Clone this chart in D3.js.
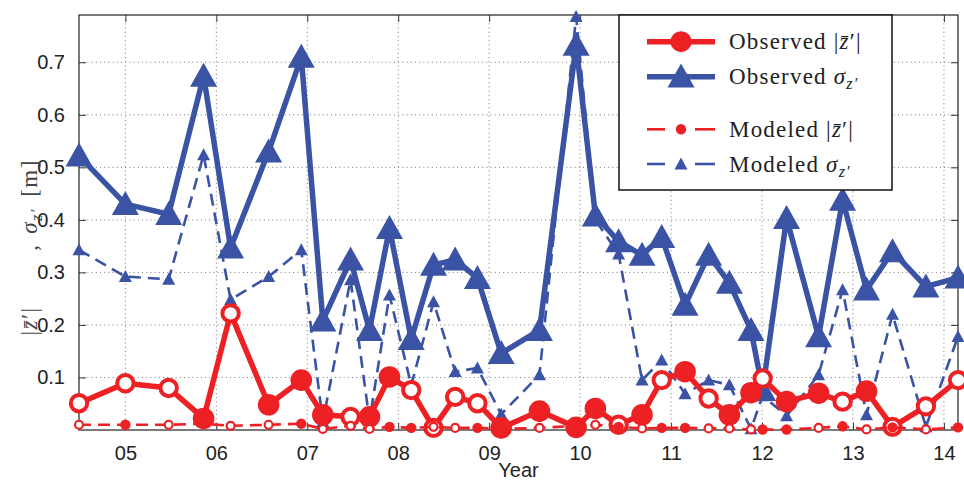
<!DOCTYPE html>
<html>
<head>
<meta charset="utf-8">
<script src="https://cdn.jsdelivr.net/npm/d3@7"></script>
<style>
  html, body { margin: 0; padding: 0; background: #fff; }
  svg { display: block; }
</style>
</head>
<body>
<svg id="chart" width="964" height="480"></svg>
<script>
// ---------- data ----------
const years = [2004.49, 2005.0, 2005.476, 2005.86, 2006.157, 2006.575, 2006.934, 2007.171, 2007.476, 2007.684,
  2007.904, 2008.143, 2008.388, 2008.626, 2008.871, 2009.132, 2009.553, 2009.956, 2010.168, 2010.423,
  2010.681, 2010.897, 2011.154, 2011.413, 2011.641, 2011.879, 2012.007, 2012.27, 2012.622, 2012.886,
  2013.149, 2013.435, 2013.802, 2014.155];
const obsZ = [0.051, 0.089, 0.08, 0.022, 0.222, 0.048, 0.095, 0.029, 0.025, 0.025,
  0.101, 0.076, 0.004, 0.063, 0.051, 0.004, 0.036, 0.005, 0.041, 0.01,
  0.029, 0.095, 0.111, 0.06, 0.029, 0.071, 0.098, 0.054, 0.07, 0.054,
  0.074, 0.006, 0.045, 0.095];
const obsZOpen = [1,1,1,0,1,0,0,0,1,0, 0,1,1,1,1,0,0,0,0,1, 0,1,0,1,0,0,1,0,0,1, 0,1,1,1];
const obsSigma = [0.522, 0.43, 0.411, 0.674, 0.347, 0.53, 0.71, 0.208, 0.324, 0.19,
  0.384, 0.173, 0.314, 0.324, 0.289, 0.146, 0.19, 0.733, 0.408, 0.359,
  0.333, 0.367, 0.238, 0.333, 0.28, 0.19, 0.076, 0.403, 0.178, 0.438,
  0.267, 0.34, 0.273, 0.29];
const modZ = [0.01, 0.01, 0.01, 0.012, 0.008, 0.01, 0.012, 0.002, 0.008, 0.002,
  0.006, 0.004, 0.006, 0.004, 0.004, 0.002, 0.004, 0.008, 0.01, 0.006,
  0.003, 0.004, 0.004, 0.003, 0.003, 0.001, 0.001, 0.001, 0.004, 0.007,
  0.001, 0.005, 0.001, 0.005];
const modZOpen = [1,0,1,0,1,1,0,1,1,1, 0,0,1,1,0,0,1,0,1,0, 1,0,0,1,1,1,0,0,1,0, 1,0,1,0];
const modSigma = [0.343, 0.292, 0.287, 0.524, 0.248, 0.292, 0.343, 0.016, 0.286, 0.018,
  0.257, 0.085, 0.244, 0.111, 0.118, 0.03, 0.105, 0.787, 0.40, 0.335,
  0.095, 0.133, 0.069, 0.095, 0.086, 0.002, 0.065, 0.027, 0.105, 0.267,
  0.029, 0.22, 0.006, 0.178];
const xTickValues = [2005, 2006, 2007, 2008, 2009, 2010, 2011, 2012, 2013, 2014];
const xTickLabels = ["05", "06", "07", "08", "09", "10", "11", "12", "13", "14"];
const yTickValues = [0.1, 0.2, 0.3, 0.4, 0.5, 0.6, 0.7];
const yTickLabels = ["0.1", "0.2", "0.3", "0.4", "0.5", "0.6", "0.7"];

// ---------- layout ----------
const RED = "#ed2024", BLUE = "#3a53a4";
const L = 79, R = 958, T = 15, B = 430;
const svg = d3.select("#chart");
const x = d3.scaleLinear().domain([2004.49, 2014.155]).range([L, R]);
const y = d3.scaleLinear().domain([0, 0.79]).range([B, T]);

// grid
const grid = svg.append("g").attr("stroke", "#666").attr("stroke-width", 0.9)
  .attr("stroke-dasharray", "1,3.2");
grid.selectAll(".gx").data(xTickValues).join("line")
  .attr("x1", d => x(d)).attr("x2", d => x(d)).attr("y1", T).attr("y2", B);
grid.selectAll(".gy").data(yTickValues).join("line")
  .attr("x1", L).attr("x2", R).attr("y1", d => y(d)).attr("y2", d => y(d));

// axes
const tickFont = "Liberation Sans, Arial, sans-serif";
const xAxisB = d3.axisBottom(x).tickValues(xTickValues).tickSizeInner(-7).tickSizeOuter(0)
  .tickPadding(16).tickFormat((d, i) => xTickLabels[i]);
const xAxisT = d3.axisTop(x).tickValues(xTickValues).tickSizeInner(-7).tickSizeOuter(0).tickFormat("");
const yAxisL = d3.axisLeft(y).tickValues(yTickValues).tickSizeInner(-7).tickSizeOuter(0)
  .tickPadding(14).tickFormat((d, i) => yTickLabels[i]);
const yAxisR = d3.axisRight(y).tickValues(yTickValues).tickSizeInner(-7).tickSizeOuter(0).tickFormat("");

function styleAxis(g) {
  g.select(".domain").remove();
  g.selectAll(".tick line").attr("stroke", "#333").attr("stroke-width", 1);
  g.selectAll("text").attr("font-family", tickFont).attr("font-size", 20).attr("fill", "#222");
}
svg.append("g").attr("transform", `translate(0,${B})`).call(xAxisB).call(styleAxis);
svg.append("g").attr("transform", `translate(0,${T})`).call(xAxisT).call(styleAxis);
svg.append("g").attr("transform", `translate(${L},0)`).call(yAxisL).call(styleAxis);
svg.append("g").attr("transform", `translate(${R},0)`).call(yAxisR).call(styleAxis);

// box
svg.append("rect").attr("x", L).attr("y", T).attr("width", R - L).attr("height", B - T)
  .attr("fill", "none").attr("stroke", "#333").attr("stroke-width", 1.3);

// axis labels
svg.append("text").attr("x", (L + R) / 2).attr("y", 477).attr("text-anchor", "middle")
  .attr("font-family", tickFont).attr("font-size", 20).attr("fill", "#222").text("Year");

const serif = "Liberation Serif, Times New Roman, serif";
function ySeg(cy) {
  return svg.append("text").attr("transform", `translate(37,${cy}) rotate(-90)`)
    .attr("text-anchor", "middle").attr("font-family", serif).attr("font-size", 23)
    .attr("fill", "#444").attr("letter-spacing", 1.5);
}
const s1 = ySeg(321);
s1.append("tspan").text("|");
s1.append("tspan").attr("font-style", "italic").text("z\u0304");
s1.append("tspan").text("\u2032|");
ySeg(247).text(",");
const s2 = ySeg(221);
s2.append("tspan").attr("font-style", "italic").text("\u03C3");
s2.append("tspan").attr("font-style", "italic").attr("font-size", 16).attr("dy", 5).text("z\u2032");
ySeg(178).text("[m]");

// ---------- series ----------
const idx = d3.range(years.length);
const line = vals => d3.line().x(i => x(years[i])).y(i => y(vals[i]))(idx);
const triPath = (w, h) => `M0,${-h * 0.55}L${w / 2},${h * 0.45}L${-w / 2},${h * 0.45}Z`;

// observed sigma
svg.append("path").attr("d", line(obsSigma)).attr("fill", "none").attr("stroke", BLUE)
  .attr("stroke-width", 5.5).attr("stroke-linejoin", "miter").attr("stroke-miterlimit", 3);
svg.append("g").selectAll("path").data(idx).join("path")
  .attr("transform", i => `translate(${x(years[i])},${y(obsSigma[i])})`)
  .attr("d", triPath(27, 24)).attr("fill", BLUE);

// modeled sigma
svg.append("path").attr("d", line(modSigma)).attr("fill", "none").attr("stroke", BLUE)
  .attr("stroke-width", 2.6).attr("stroke-dasharray", "12,7");
svg.append("g").selectAll("path").data(idx).join("path")
  .attr("transform", i => `translate(${x(years[i])},${y(modSigma[i])})`)
  .attr("d", triPath(13, 12)).attr("fill", BLUE);

// observed |z|
svg.append("path").attr("d", line(obsZ)).attr("fill", "none").attr("stroke", RED)
  .attr("stroke-width", 5.5).attr("stroke-linejoin", "round");
svg.append("g").selectAll("circle").data(idx).join("circle")
  .attr("cx", i => x(years[i])).attr("cy", i => y(obsZ[i]))
  .attr("r", i => obsZOpen[i] ? 8.2 : 10.8)
  .attr("fill", i => obsZOpen[i] ? "#fff" : RED)
  .attr("stroke", RED).attr("stroke-width", i => obsZOpen[i] ? 4 : 0);

// modeled |z|
svg.append("path").attr("d", line(modZ)).attr("fill", "none").attr("stroke", RED)
  .attr("stroke-width", 2.6).attr("stroke-dasharray", "12,7");
svg.append("g").selectAll("circle").data(idx).join("circle")
  .attr("cx", i => x(years[i])).attr("cy", i => y(modZ[i]))
  .attr("r", i => modZOpen[i] ? 4 : 5.2)
  .attr("fill", i => modZOpen[i] ? "#fff" : RED)
  .attr("stroke", RED).attr("stroke-width", i => modZOpen[i] ? 2.2 : 0);

// ---------- legend ----------
const lg = svg.append("g");
lg.append("rect").attr("x", 619).attr("y", 15).attr("width", 273).attr("height", 175)
  .attr("fill", "#fff").attr("stroke", "#111").attr("stroke-width", 1.5);
const lx1 = 647, lx2 = 715, lxc = 681, tx = 729;
const rows = [41.7, 76.7, 129.3, 164];
// row 1
lg.append("line").attr("x1", lx1).attr("x2", lx2).attr("y1", rows[0]).attr("y2", rows[0])
  .attr("stroke", RED).attr("stroke-width", 5.5);
lg.append("circle").attr("cx", lxc).attr("cy", rows[0]).attr("r", 10.5).attr("fill", RED);
// row 2
lg.append("line").attr("x1", lx1).attr("x2", lx2).attr("y1", rows[1]).attr("y2", rows[1])
  .attr("stroke", BLUE).attr("stroke-width", 5.5);
lg.append("path").attr("transform", `translate(${lxc},${rows[1]})`).attr("d", triPath(27, 24)).attr("fill", BLUE);
// row 3
[[lx1, 665], [695, lx2]].forEach(([a, b]) => lg.append("line").attr("x1", a).attr("x2", b)
  .attr("y1", rows[2]).attr("y2", rows[2]).attr("stroke", RED).attr("stroke-width", 2.6));
lg.append("circle").attr("cx", lxc).attr("cy", rows[2]).attr("r", 5.2).attr("fill", RED);
// row 4
[[lx1, 665], [695, lx2]].forEach(([a, b]) => lg.append("line").attr("x1", a).attr("x2", b)
  .attr("y1", rows[3]).attr("y2", rows[3]).attr("stroke", BLUE).attr("stroke-width", 2.6));
lg.append("path").attr("transform", `translate(${lxc},${rows[3]})`).attr("d", triPath(13, 12)).attr("fill", BLUE);

function legendText(yy, word, kind) {
  const t = lg.append("text").attr("x", tx).attr("y", yy + 7.5).attr("font-family", serif)
    .attr("font-size", 23).attr("fill", "#222").attr("letter-spacing", 1.2);
  t.append("tspan").text(word + " ");
  if (kind === "z") {
    t.append("tspan").text("|");
    t.append("tspan").attr("font-style", "italic").text("z\u0304");
    t.append("tspan").text("\u2032|");
  } else {
    t.append("tspan").attr("font-style", "italic").text("\u03C3");
    t.append("tspan").attr("font-style", "italic").attr("font-size", 16).attr("dy", 5).text("z\u2032");
  }
}
legendText(rows[0], "Observed", "z");
legendText(rows[1], "Observed", "s");
legendText(rows[2], "Modeled", "z");
legendText(rows[3], "Modeled", "s");
</script>
</body>
</html>
